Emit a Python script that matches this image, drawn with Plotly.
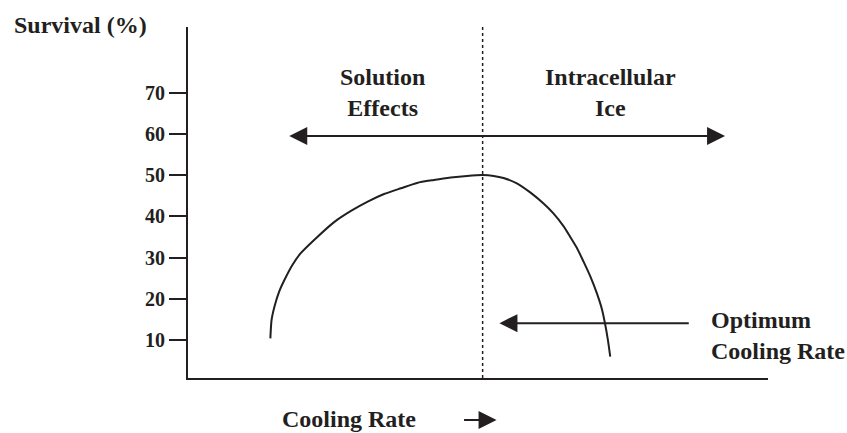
import plotly.graph_objects as go

# Survival curve (arbitrary cooling-rate units 0-100, survival %)
curve_x = [14.2, 14.4, 14.9, 15.7, 16.6, 18.0, 19.4, 22.3, 25.2, 28.1, 30.9,
           33.8, 36.7, 39.5, 42.4, 45.3, 48.1, 50.8,
           52.7, 54.4, 56.7, 59.0, 61.3, 63.0, 64.8, 65.9, 67.1, 68.2,
           69.4, 70.5, 71.4, 71.9, 72.4, 72.8]
curve_y = [10.4, 14.8, 18.1, 21.7, 24.5, 28.2, 31.0, 35.0, 38.6, 41.3, 43.5,
           45.4, 46.8, 48.1, 48.8, 49.4, 49.8, 50.0,
           49.8, 49.3, 48.0, 45.8, 43.1, 40.7, 37.5, 35.0, 32.2, 29.0,
           25.3, 21.3, 17.3, 14.0, 10.0, 6.0]

y_ticks = [10, 20, 30, 40, 50, 60, 70]
optimum_x = 50.8

INK = "#231f20"
FONT = "Liberation Serif"

fig = go.Figure()
fig.add_trace(go.Scatter(x=curve_x, y=curve_y, mode="lines",
                         line=dict(color=INK, width=2, shape="spline", smoothing=0.6),
                         hoverinfo="skip", showlegend=False))

fig.update_xaxes(range=[0, 100], showline=True, linecolor=INK, linewidth=2,
                 showgrid=False, zeroline=False, showticklabels=False, ticks="")
fig.update_yaxes(range=[0.8, 85.9], showline=True, linecolor=INK, linewidth=2,
                 showgrid=False, zeroline=False, tickvals=y_ticks,
                 ticks="outside", ticklen=17, tickwidth=2, tickcolor=INK,
                 tickfont=dict(family=FONT, size=20, color=INK, weight="bold"))

# dotted optimum line
fig.add_shape(type="line", xref="x", yref="paper", x0=optimum_x, x1=optimum_x,
              y0=0, y1=1, line=dict(color=INK, width=1.5, dash="dot"))

tf = dict(family=FONT, size=24, color=INK, weight="bold")

# double arrow
fig.add_annotation(x=92.6, y=59.5, ax=17.2, ay=59.5, xref="x", yref="y",
                   axref="x", ayref="y", text="", showarrow=True,
                   arrowhead=2, startarrowhead=2, arrowside="end+start",
                   arrowsize=1.8, startarrowsize=1.8, arrowwidth=2, arrowcolor=INK)
# optimum arrow
fig.add_annotation(x=53.7, y=14.1, ax=86.6, ay=14.1, xref="x", yref="y",
                   axref="x", ayref="y", text="", showarrow=True,
                   arrowhead=2, arrowsize=1.8, arrowwidth=2, arrowcolor=INK)
# cooling rate small arrow
fig.add_annotation(x=0.532, y=-0.12, xref="paper", yref="paper",
                   ax=-34, ay=0, text="", showarrow=True,
                   arrowhead=2, arrowsize=1.8, arrowwidth=2, arrowcolor=INK)

fig.add_annotation(x=33.6, y=70, xref="x", yref="y", text="Solution<br>Effects",
                   showarrow=False, font=tf, align="center")
fig.add_annotation(x=72.8, y=70, xref="x", yref="y", text="Intracellular<br>Ice",
                   showarrow=False, font=tf, align="center")
fig.add_annotation(x=0.898, y=0.1225, xref="paper", yref="paper",
                   text="Optimum<br>Cooling Rate", showarrow=False, font=tf,
                   align="left", xanchor="left", yanchor="middle")
fig.add_annotation(x=0.277, y=-0.118, xref="paper", yref="paper",
                   text="Cooling Rate", showarrow=False, font=tf,
                   xanchor="center", yanchor="middle")
fig.add_annotation(x=-0.303, y=1.006, xref="paper", yref="paper",
                   text="Survival (%)", showarrow=False, font=tf,
                   xanchor="left", yanchor="middle")

fig.update_layout(width=847, height=433, paper_bgcolor="white", plot_bgcolor="white",
                  margin=dict(l=188, r=79, t=27, b=55))

fig.write_html("out.html", config={"displayModeBar": False},
               post_script="document.body.style.margin='0';document.body.style.overflow='hidden';")
